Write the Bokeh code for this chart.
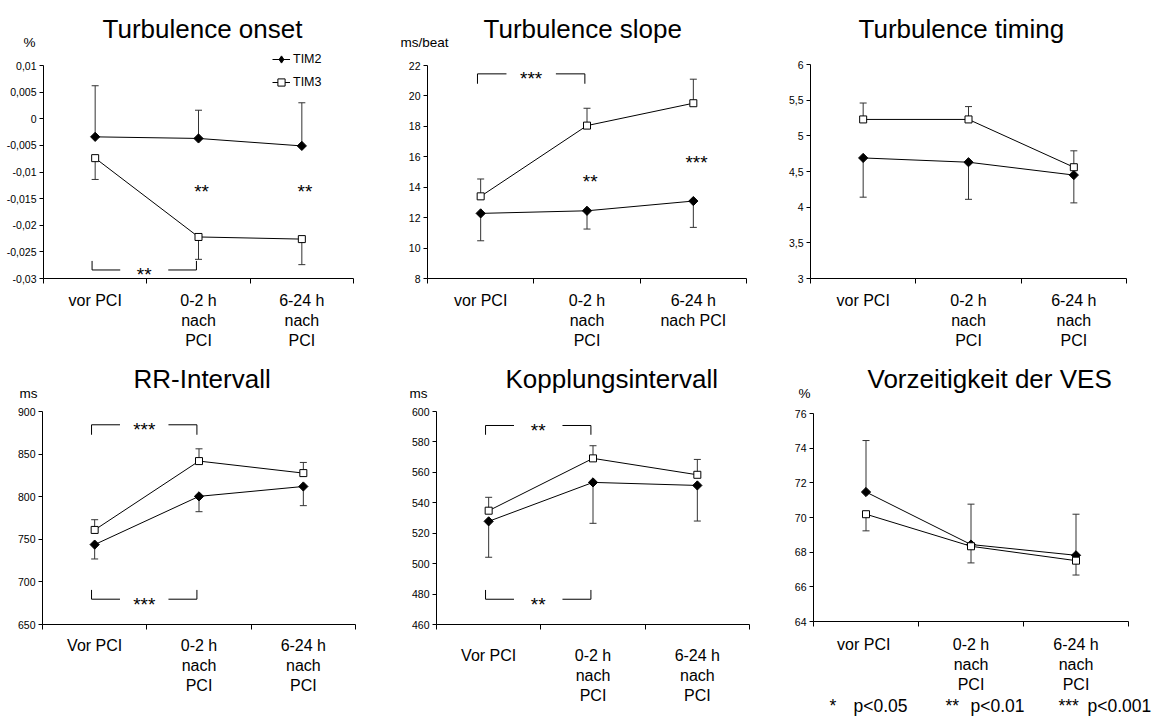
import numpy as np
from bokeh.plotting import figure
from bokeh.layouts import column, row
from bokeh.models import (Range1d, FixedTicker, CustomJSTickFormatter, Whisker, TeeHead,
                          ColumnDataSource, Legend, LegendItem, Label)
from bokeh.core.properties import value
from bokeh.embed import file_html
from bokeh.resources import INLINE

FONT = "Liberation Sans"

# ---------------- data ----------------
cats_onset = ["vor PCI", "0-2 h\nnach\nPCI", "6-24 h\nnach\nPCI"]
cats_slope = ["vor PCI", "0-2 h\nnach\nPCI", "6-24 h\nnach PCI"]
cats_timing = ["vor PCI", "0-2 h\nnach\nPCI", "6-24 h\nnach\nPCI"]
cats_rr = ["Vor PCI", "0-2 h\nnach\nPCI", "6-24 h\nnach\nPCI"]
cats_kopp = ["Vor PCI", "0-2 h\nnach\nPCI", "6-24 h\nnach\nPCI"]
cats_ves = ["vor  PCI", "0-2 h\nnach\nPCI", "6-24 h\nnach\nPCI"]

yt_onset = [-0.03, -0.025, -0.02, -0.015, -0.01, -0.005, 0, 0.005, 0.01]
yt_slope = [8, 10, 12, 14, 16, 18, 20, 22]
yt_timing = [3, 3.5, 4, 4.5, 5, 5.5, 6]
yt_rr = [650, 700, 750, 800, 850, 900]
yt_kopp = [460, 480, 500, 520, 540, 560, 580, 600]
yt_ves = [64, 66, 68, 70, 72, 74, 76]

onset_tim2 = [-0.0034, -0.0037, -0.0051]
onset_tim2_err = [0.0096, 0.0053, 0.0081]
onset_tim3 = [-0.0074, -0.0222, -0.0226]
onset_tim3_err = [0.0040, 0.0042, 0.0048]

slope_tim2 = [12.28, 12.45, 13.09]
slope_tim2_err = [1.80, 1.20, 1.73]
slope_tim3 = [13.40, 18.05, 19.52]
slope_tim3_err = [1.14, 1.14, 1.58]

timing_tim2 = [4.69, 4.63, 4.45]
timing_tim2_err = [0.55, 0.52, 0.39]
timing_tim3 = [5.23, 5.23, 4.56]
timing_tim3_err = [0.23, 0.18, 0.23]

rr_tim2 = [743.8, 800.4, 812.0]
rr_tim2_err = [16.9, 18.0, 22.5]
rr_tim3 = [761.0, 841.8, 827.7]
rr_tim3_err = [12.0, 14.4, 12.5]

kopp_tim2 = [527.8, 553.4, 551.4]
kopp_tim2_err = [23.6, 26.9, 23.4]
kopp_tim3 = [534.8, 569.2, 558.4]
kopp_tim3_err = [8.8, 8.3, 10.1]

ves_tim2 = [71.47, 68.44, 67.82]
ves_tim2_err = [2.97, 2.33, 2.37]
ves_tim3 = [70.19, 68.34, 67.51]
ves_tim3_err = [0.96, 0.96, 0.83]

# significance brackets: (from category, to category, level, end-tick level, stars)
br_onset = [(0, 1, -0.0284, -0.0267, "**")]
br_slope = [(0, 1, 21.45, 20.8, "***")]
br_rr = [(0, 1, 884.4, 872.7, "***"), (0, 1, 679.7, 690.6, "***")]
br_kopp = [(0, 1, 590.8, 584.7, "**"), (0, 1, 476.6, 482.7, "**")]
# free-standing stars: (category, level, stars)
st_onset = [(1, -0.0127, "**"), (2, -0.0127, "**")]
st_slope = [(1, 14.7, "**"), (2, 15.97, "***")]

footnote = ["*", "p<0.05", "**", "p<0.01", "***", "p<0.001"]
series_names = ["TIM2", "TIM3"]

ERRC = "#333333"


def panel(W, H, frame, title, title_pos, cats, yticks, t2, e2, t3, e3, tim2_up,
          brackets=(), stars=(), unit=None, unit_pos=None, lab_standoff=8):
    fl, fr, ft, fb = frame
    n = len(cats)
    xs = [i + 0.5 for i in range(n)]
    y0, y1 = yticks[0], yticks[-1]
    kx = (fr - fl) / n
    ky = (fb - ft) / (y1 - y0)
    xr = Range1d(0 - fl / kx, n + (W - fr) / kx)
    yr = Range1d(y0 - (H - fb) / ky, y1 + ft / ky)

    def px(x, y):  # canvas pixel -> data
        return (x - fl) / kx, y0 + (fb - y) / ky

    p = figure(width=W, height=H, x_range=xr, y_range=yr,
               output_backend="svg", toolbar_location=None, title=None,
               min_border=0, min_border_left=0, min_border_right=0, min_border_top=0,
               min_border_bottom=0,
               background_fill_color="white", border_fill_color="white", outline_line_color=None)
    p.grid.visible = False

    xa = p.xaxis[0]
    xa.fixed_location = y0
    xa.bounds = (0, n)
    xa.ticker = FixedTicker(ticks=xs, minor_ticks=list(range(n + 1)))
    xa.formatter = CustomJSTickFormatter(args=dict(labels=cats), code="return labels[Math.floor(tick)];")
    xa.major_tick_out = 0
    xa.major_tick_in = 0
    xa.minor_tick_out = 5
    xa.minor_tick_in = 0
    xa.minor_tick_line_color = "black"
    xa.axis_line_color = "black"
    xa.major_label_text_font = FONT
    xa.major_label_text_font_size = "16px"
    xa.major_label_text_color = "black"
    xa.major_label_standoff = lab_standoff

    ya = p.yaxis[0]
    ya.fixed_location = 0
    ya.bounds = (y0, y1)
    ya.ticker = FixedTicker(ticks=yticks)
    ya.formatter = CustomJSTickFormatter(code="return String(tick).replace('.', ',');")
    ya.major_tick_out = 4
    ya.major_tick_in = 0
    ya.minor_tick_out = 0
    ya.minor_tick_in = 0
    ya.axis_line_color = "black"
    ya.major_tick_line_color = "black"
    ya.major_label_text_font = FONT
    ya.major_label_text_font_size = "10.5px"
    ya.major_label_text_color = "black"
    ya.major_label_standoff = 3

    # title
    tx, ty = px(*title_pos)
    p.add_layout(Label(x=tx, y=ty, text=title, text_font=FONT, text_font_size="26px",
                       text_align="left", text_baseline="middle", text_color="black"))
    if unit:
        ux, uy = px(*unit_pos)
        p.add_layout(Label(x=ux, y=uy, text=unit, text_font=FONT, text_font_size="13.5px",
                           text_align="center", text_baseline="middle", text_color="black"))

    # error bars
    def whisk(vals, errs, up):
        if up:
            src = ColumnDataSource(dict(x=xs, lo=vals, hi=[v + e for v, e in zip(vals, errs)]))
            w = Whisker(base="x", lower="lo", upper="hi", source=src, line_color=ERRC, line_width=1,
                        lower_head=None, upper_head=TeeHead(size=7, line_color=ERRC, line_width=1))
        else:
            src = ColumnDataSource(dict(x=xs, lo=[v - e for v, e in zip(vals, errs)], hi=vals))
            w = Whisker(base="x", lower="lo", upper="hi", source=src, line_color=ERRC, line_width=1,
                        upper_head=None, lower_head=TeeHead(size=7, line_color=ERRC, line_width=1))
        p.add_layout(w)

    whisk(t2, e2, tim2_up)
    whisk(t3, e3, not tim2_up)

    l2 = p.line(xs, t2, line_color="black", line_width=1)
    p.scatter(xs, t2, marker="square", angle=np.pi / 4, size=6.5, fill_color="black",
              line_color="black")
    l3 = p.line(xs, t3, line_color="black", line_width=1)
    p.scatter(xs, t3, marker="square", size=7, fill_color="white", line_color="black",
              line_width=1)
    # zero-size twins: only shown as legend symbols (legend draws markers at its own size)
    g2 = p.scatter(xs, t2, marker="diamond", size=0, fill_color="black", line_color="black")
    g3 = p.scatter(xs, t3, marker="square", size=0, fill_color="white", line_color="black")

    for (c0, c1, lev, tick, txt) in brackets:
        x0 = xs[c0] - 0.03
        x1 = xs[c1] - 0.02
        xa_ = x0 + 0.27 * (x1 - x0)
        xb_ = x0 + 0.73 * (x1 - x0)
        p.line([x0, x0, xa_], [tick, lev, lev], line_color="black", line_width=1)
        p.line([xb_, x1, x1], [lev, lev, tick], line_color="black", line_width=1)
        p.text(x=[(x0 + x1) / 2], y=[lev], text=[txt], text_font=value(FONT), text_font_size="19px",
               text_align="center", text_baseline="middle", y_offset=5, text_color="black")
    for (c, lev, txt) in stars:
        p.text(x=[xs[c] + 0.03], y=[lev], text=[txt], text_font=value(FONT), text_font_size="19px",
               text_align="center", text_baseline="middle", y_offset=5, text_color="black")
    return p, (l2, g2), (l3, g3), px


p1, r2, r3, _ = panel(385, 350, (43, 353, 65, 278), "Turbulence onset", (102, 28),
                      cats_onset, yt_onset, onset_tim2, onset_tim2_err, onset_tim3, onset_tim3_err,
                      True, brackets=br_onset, stars=st_onset, unit="%", unit_pos=(29, 42))
leg = Legend(items=[LegendItem(label=series_names[0], renderers=list(r2)),
                    LegendItem(label=series_names[1], renderers=list(r3))],
             location=(272, 258), border_line_color=None, background_fill_alpha=0,
             padding=0, margin=0, spacing=3, glyph_width=18, glyph_height=20, label_height=20,
             label_standoff=3, label_text_font=FONT, label_text_font_size="12.5px",
             label_text_color="black")
p1.add_layout(leg)

p2, _, _, _ = panel(385, 350, (42, 361, 65, 278), "Turbulence slope", (98, 28),
                    cats_slope, yt_slope, slope_tim2, slope_tim2_err, slope_tim3, slope_tim3_err,
                    False, brackets=br_slope, stars=st_slope, unit="ms/beat", unit_pos=(39, 42))
p3, _, _, _ = panel(387, 350, (40, 356, 64, 278), "Turbulence timing", (88, 28),
                    cats_timing, yt_timing, timing_tim2, timing_tim2_err, timing_tim3,
                    timing_tim3_err, False)
p4, _, _, _ = panel(385, 366, (42, 355, 61, 274), "RR-Intervall", (133, 28),
                    cats_rr, yt_rr, rr_tim2, rr_tim2_err, rr_tim3, rr_tim3_err, False,
                    brackets=br_rr, unit="ms", unit_pos=(28, 43), lab_standoff=7)
p5, _, _, _ = panel(385, 366, (51, 364, 61, 274), "Kopplungsintervall", (120, 28),
                    cats_kopp, yt_kopp, kopp_tim2, kopp_tim2_err, kopp_tim3, kopp_tim3_err, False,
                    brackets=br_kopp, unit="ms", unit_pos=(33, 43), lab_standoff=17)
p6, _, _, px6 = panel(387, 366, (43, 358, 63, 271), "Vorzeitigkeit der VES", (97, 28),
                      cats_ves, yt_ves, ves_tim2, ves_tim2_err, ves_tim3, ves_tim3_err, True,
                      unit="%", unit_pos=(34, 43), lab_standoff=9)

foot_x = [59, 83, 175, 200, 288, 317]
for txt, fx in zip(footnote, foot_x):
    x, y = px6(fx, 355)
    p6.add_layout(Label(x=x, y=y, text=txt, text_font=FONT, text_font_size="17.5px",
                        text_align="left", text_baseline="middle", text_color="black"))

layout = column(row(p1, p2, p3), row(p4, p5, p6))
open("out.html", "w").write(file_html(layout, INLINE))
